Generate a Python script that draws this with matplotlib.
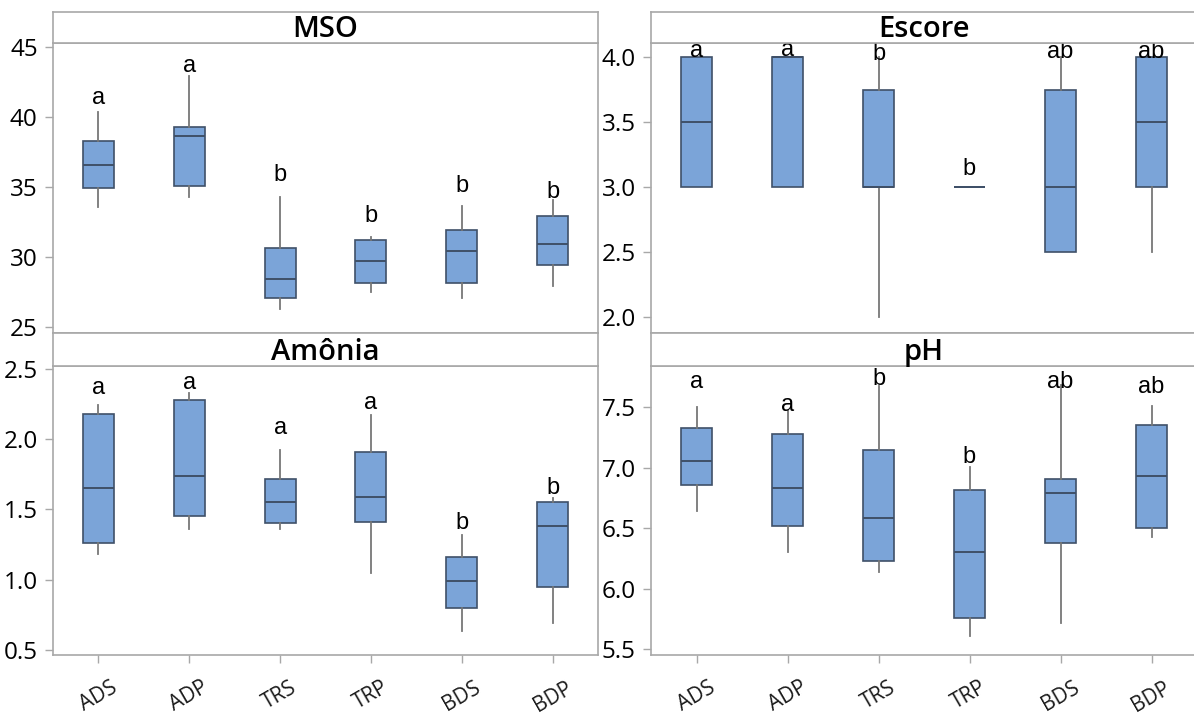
import matplotlib.pyplot as plt

plt.rcParams['font.family'] = ['Open Sans', 'DejaVu Sans']

groups = ['ADS', 'ADP', 'TRS', 'TRP', 'BDS', 'BDP']

# MSO
mso_min = [33.6, 34.3, 26.3, 27.5, 27.1, 27.9]
mso_q1 = [34.95, 35.1, 27.05, 28.15, 28.15, 29.4]
mso_med = [36.55, 38.65, 28.45, 29.75, 30.4, 30.9]
mso_q3 = [38.3, 39.3, 30.65, 31.2, 31.9, 32.9]
mso_max = [40.35, 42.9, 34.3, 31.4, 33.65, 34.1]
mso_letters = ['a', 'a', 'b', 'b', 'b', 'b']
mso_letter_y = [40.95, 43.2, 35.4, 32.5, 34.65, 34.2]

# Escore
esc_min = [3.0, 3.0, 2.0, 3.0, 2.5, 2.5]
esc_q1 = [3.0, 3.0, 3.0, 3.0, 2.5, 3.0]
esc_med = [3.5, 4.0, 3.0, 3.0, 3.0, 3.5]
esc_q3 = [4.0, 4.0, 3.75, 3.0, 3.75, 4.0]
esc_max = [4.0, 4.0, 4.0, 3.0, 4.0, 4.0]
esc_letters = ['a', 'a', 'b', 'b', 'ab', 'ab']
esc_letter_y = [4.0, 4.01, 3.98, 3.09, 3.99, 3.99]

# Amônia
amo_min = [1.18, 1.36, 1.36, 1.05, 0.635, 0.69]
amo_q1 = [1.26, 1.45, 1.40, 1.41, 0.80, 0.95]
amo_med = [1.65, 1.74, 1.55, 1.59, 0.99, 1.38]
amo_q3 = [2.18, 2.28, 1.715, 1.91, 1.165, 1.55]
amo_max = [2.24, 2.33, 1.92, 2.17, 1.32, 1.58]
amo_letters = ['a', 'a', 'a', 'a', 'b', 'b']
amo_letter_y = [2.32, 2.355, 2.04, 2.215, 1.36, 1.61]

# pH
ph_min = [6.64, 6.30, 6.14, 5.61, 5.715, 6.43]
ph_q1 = [6.855, 6.52, 6.23, 5.755, 6.38, 6.505]
ph_med = [7.055, 6.83, 6.585, 6.305, 6.79, 6.93]
ph_q3 = [7.325, 7.28, 7.145, 6.82, 6.905, 7.355]
ph_max = [7.5, 7.47, 7.675, 7.005, 7.685, 7.51]
ph_letters = ['a', 'a', 'b', 'b', 'ab', 'ab']
ph_letter_y = [7.66, 7.47, 7.685, 7.04, 7.66, 7.62]

W, H = 1194, 716
fig = plt.figure(figsize=(W / 100, H / 100), dpi=100)

FRAME = '#a8a8a8'
BOX_FACE = '#7ba4d8'
BOX_EDGE = '#3f5068'
WHISK = '#777777'


def px_rect(x0, y0, x1, y1):
    # pixel box (top-left origin) -> figure fraction
    return [x0 / W, 1 - y1 / H, (x1 - x0) / W, (y1 - y0) / H]


def panel(x0, x1, y_strip, y_top, y_bot, title, lo, q1, med, q3, hi,
          ylim, yticks, fmt, letters, letter_y, show_x):
    ax = fig.add_axes(px_rect(x0, y_top, x1, y_bot))
    stats = [dict(whislo=a, q1=b, med=c, q3=d, whishi=e, label=g)
             for a, b, c, d, e, g in zip(lo, q1, med, q3, hi, groups)]
    ax.bxp(stats, positions=range(1, 7), widths=0.34, patch_artist=True,
           showfliers=False, showcaps=False,
           boxprops=dict(facecolor=BOX_FACE, edgecolor=BOX_EDGE, linewidth=1.2),
           medianprops=dict(color=BOX_EDGE, linewidth=1.4),
           whiskerprops=dict(color=WHISK, linewidth=1.3))
    ax.set_xlim(0.5, 6.5)
    ax.set_ylim(*ylim)
    ax.set_yticks(yticks)
    ax.set_yticklabels([fmt.format(v) for v in yticks])
    for s in ax.spines.values():
        s.set_color(FRAME)
        s.set_linewidth(1.2)
    ax.tick_params(axis='y', direction='out', length=6, width=1, color=FRAME,
                   labelsize=17.5, labelcolor='black', pad=5)
    if show_x:
        ax.set_xticks(range(1, 7))
        ax.set_xticklabels(groups, rotation=30, ha='center')
        ax.tick_params(axis='x', direction='out', length=6, width=1,
                       color=FRAME, labelsize=15, labelcolor='#1a1a1a', pad=10)
    else:
        ax.set_xticks([])
    for i, (t, y) in enumerate(zip(letters, letter_y)):
        ax.text(i + 1, y, t, ha='center', va='baseline', fontsize=17,
                family=['Liberation Sans', 'DejaVu Sans'], clip_on=False,
                zorder=5)

    st = fig.add_axes(px_rect(x0, y_strip, x1, y_top))
    st.set_xticks([])
    st.set_yticks([])
    for s in st.spines.values():
        s.set_color(FRAME)
        s.set_linewidth(1.2)
    st.text(0.5, 0.42, title, ha='center', va='center', fontsize=21,
            fontweight='semibold', transform=st.transAxes)
    return ax


panel(53, 598, 12, 43, 333, 'MSO', mso_min, mso_q1, mso_med, mso_q3, mso_max,
      (24.57, 45.29), [25, 30, 35, 40, 45], '{:.0f}',
      mso_letters, mso_letter_y, False)
panel(651, 1197, 12, 43, 333, 'Escore', esc_min, esc_q1, esc_med, esc_q3, esc_max,
      (1.877, 4.108), [2.0, 2.5, 3.0, 3.5, 4.0], '{:.1f}',
      esc_letters, esc_letter_y, False)
panel(53, 598, 333, 366, 655, 'Amônia', amo_min, amo_q1, amo_med, amo_q3, amo_max,
      (0.464, 2.521), [0.5, 1.0, 1.5, 2.0, 2.5], '{:.1f}',
      amo_letters, amo_letter_y, True)
panel(651, 1197, 333, 366, 655, 'pH', ph_min, ph_q1, ph_med, ph_q3, ph_max,
      (5.453, 7.841), [5.5, 6.0, 6.5, 7.0, 7.5], '{:.1f}',
      ph_letters, ph_letter_y, True)

fig.savefig('out.png', dpi=100)
